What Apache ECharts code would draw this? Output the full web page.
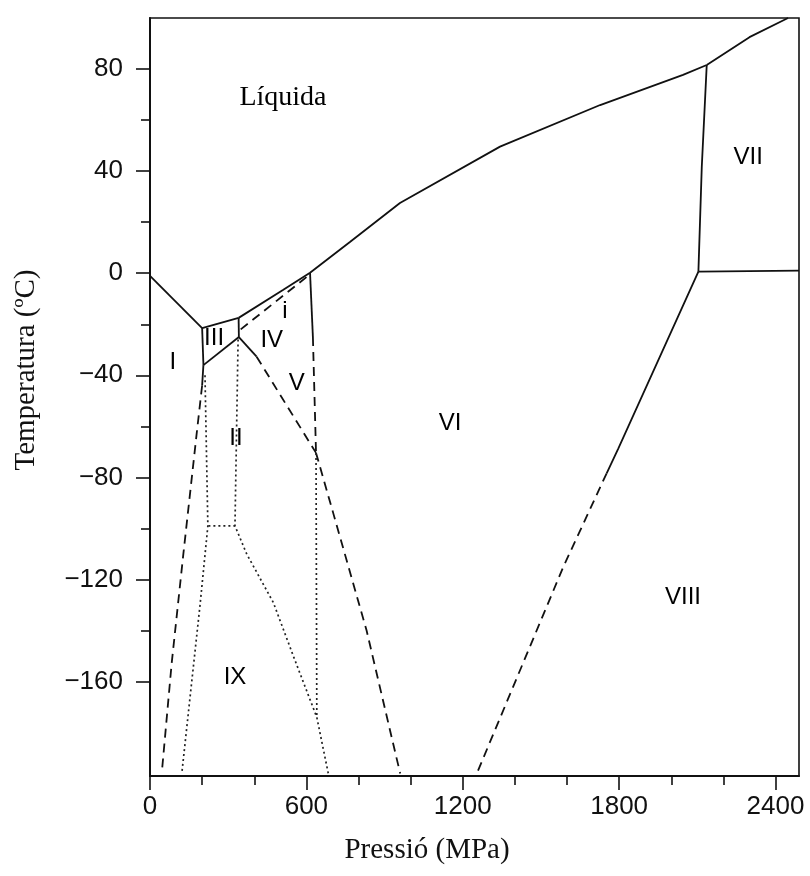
<!DOCTYPE html>
<html>
<head>
<meta charset="utf-8">
<title>Diagrama de fases de l'aigua</title>
<script src="https://cdn.jsdelivr.net/npm/echarts@6/dist/echarts.min.js"></script>
<style>
  html, body { margin: 0; padding: 0; background: #fff; }
  #chart { width: 810px; height: 876px; }
</style>
</head>
<body>
<div id="chart"></div>
<script>
// eixos: pressió (MPa) i temperatura (°C)
const pMajor = [0, 600, 1200, 1800, 2400];
const pMinor = [200, 400, 800, 1000, 1400, 1600, 2000, 2200];
const tMajor = [-160, -120, -80, -40, 0, 40, 80];
const tMinor = [-140, -100, -60, -20, 20, 60];

// fronteres sòlides [P, T]
const liqI = [[0, -1], [200, -21.5]];
const liqIII = [[200, -21.5], [340, -17.5]];
const liqV = [[340, -17.5], [510, -6.6], [614, 0.2]];
const liqVI = [[614, 0.2], [767, 12.2], [959, 27.5], [1343, 49.6], [1727, 65.9], [2045, 77.7], [2136, 81.6]];
const liqVII = [[2136, 81.6], [2300, 92.5], [2448, 100]];
const viVII = [[2136, 81.6], [2117, 41.7], [2104, 0.6]];
const viiVIII = [[2104, 0.6], [2490, 1]];
const viVIII = [[2104, 0.6], [1797, -68.6], [1752, -78.4]];
const vVI = [[614, 0.2], [625, -25]];
const iiiV = [[340, -17.5], [341, -25]];
const iiIII = [[341, -25], [205, -36]];
const iIII = [[200, -21.5], [205, -36]];
const iII = [[205, -36], [200, -44]];
const iiV = [[341, -25], [409, -32.7]];

// fronteres discontínues
const viVIIIdash = [[1752, -78.4], [1586, -115], [1254, -196]];
const vVIdash = [[625, -25], [637, -70.4]];
const iIIdash = [[200, -44], [180, -62], [128, -110], [83, -153], [45, -196]];
const iiVdash = [[409, -32.7], [637, -70.4]];
const lowVIdash = [[637, -70.4], [703, -94], [831, -140], [946, -190], [960, -196]];
const ivDash = [[348, -22], [607, -1]];

// fronteres puntejades
const dotLeft = [[211, -40], [222, -99], [192, -130], [122, -196]];
const dotMid = [[224, -99], [326, -99]];
const dotRight = [[338, -26], [326, -99], [371, -110], [473, -129], [550, -150], [640, -174], [684, -196]];
const dotV = [[637, -70.4], [640, -174]];

// etiquetes de fase
const phaseNames = ['I', 'II', 'III', 'IV', 'V', 'i', 'VI', 'VII', 'VIII', 'IX'];
const phaseP = [88, 330, 246, 467, 563, 518, 1151, 2295, 2045, 326];
const phaseT = [-34.8, -64.6, -25.4, -26.2, -43, -14.8, -58.7, 45.5, -126.9, -158.2];
const liquidLabel = { name: 'Líquida', p: 510, t: 68.7 };

const chart = echarts.init(document.getElementById('chart'));

const ink = '#111';

function boundary(data, kind) {
  let type = 'solid', width = 1.8, color = ink;
  if (kind === 'dash') { type = [9, 6]; width = 1.8; }
  if (kind === 'dot') { type = [2, 3]; width = 1.7; color = '#222'; }
  return {
    type: 'line',
    data: data,
    symbol: 'none',
    silent: true,
    animation: false,
    lineStyle: { color: color, width: width, type: type }
  };
}

const series = [
  liqI, liqIII, liqV, liqVI, liqVII, viVII, viiVIII, viVIII, vVI, iiiV, iiIII, iIII, iII, iiV
].map(d => boundary(d, 'solid'))
  .concat([viVIIIdash, vVIdash, iIIdash, iiVdash, lowVIdash, ivDash].map(d => boundary(d, 'dash')))
  .concat([dotLeft, dotMid, dotRight, dotV].map(d => boundary(d, 'dot')));

// etiquetes (punt invisible, text opac)
function labelSeries(data, family, size) {
  return {
    type: 'scatter',
    silent: true,
    animation: false,
    symbolSize: 1,
    itemStyle: { color: 'transparent', opacity: 1 },
    label: {
      show: true,
      position: 'inside',
      formatter: '{b}',
      color: '#000',
      opacity: 1,
      textBorderWidth: 0,
      fontFamily: family,
      fontSize: size
    },
    data: data
  };
}

series.push(labelSeries(phaseNames.map((n, i) => ({ name: n, value: [phaseP[i], phaseT[i]] })), 'Liberation Sans', 24));
series.push(labelSeries([{ name: liquidLabel.name, value: [liquidLabel.p, liquidLabel.t] }], 'Liberation Serif', 28));

const option = {
  backgroundColor: '#fff',
  animation: false,
  grid: {
    left: 150,
    right: 11,
    top: 18,
    bottom: 100,
    show: true,
    borderColor: ink,
    borderWidth: 1.6
  },
  xAxis: [
    {
      type: 'value',
      min: 0,
      max: 2490,
      position: 'bottom',
      axisLine: { onZero: false, lineStyle: { color: ink, width: 2 } },
      axisTick: { customValues: pMajor, length: 14, lineStyle: { color: ink, width: 1.6 } },
      axisLabel: {
        customValues: pMajor,
        margin: 18,
        color: '#111',
        fontFamily: 'Liberation Sans',
        fontSize: 26,
        formatter: v => String(v)
      },
      splitLine: { show: false }
    },
    {
      // marques menors
      type: 'value',
      min: 0,
      max: 2490,
      position: 'bottom',
      axisLine: { show: false, onZero: false },
      axisTick: { customValues: pMinor, length: 9, lineStyle: { color: ink, width: 1.6 } },
      axisLabel: { show: false },
      splitLine: { show: false }
    }
  ],
  yAxis: [
    {
      type: 'value',
      min: -197,
      max: 100,
      position: 'left',
      axisLine: { show: true, onZero: false, lineStyle: { color: ink, width: 2 } },
      axisTick: { show: true, customValues: tMajor, length: 14, lineStyle: { color: ink, width: 1.6 } },
      axisLabel: {
        customValues: tMajor,
        margin: 27,
        color: '#111',
        fontFamily: 'Liberation Sans',
        fontSize: 26,
        formatter: v => String(v).replace('-', '\u2212')
      },
      splitLine: { show: false }
    },
    {
      type: 'value',
      min: -197,
      max: 100,
      position: 'left',
      axisLine: { show: false, onZero: false },
      axisTick: { show: true, customValues: tMinor, length: 9, lineStyle: { color: ink, width: 1.6 } },
      axisLabel: { show: false },
      splitLine: { show: false }
    }
  ],
  graphic: [
    {
      type: 'text',
      x: 427,
      y: 850,
      silent: true,
      style: {
        text: 'Pressió (MPa)',
        font: '29px "Liberation Serif"',
        fill: '#111',
        textAlign: 'center',
        textVerticalAlign: 'middle'
      }
    },
    {
      type: 'text',
      x: 26,
      y: 370,
      rotation: Math.PI / 2,
      silent: true,
      style: {
        text: 'Temperatura (ºC)',
        font: '29px "Liberation Serif"',
        fill: '#111',
        textAlign: 'center',
        textVerticalAlign: 'middle'
      }
    }
  ],
  series: series
};

chart.setOption(option);
</script>
</body>
</html>
